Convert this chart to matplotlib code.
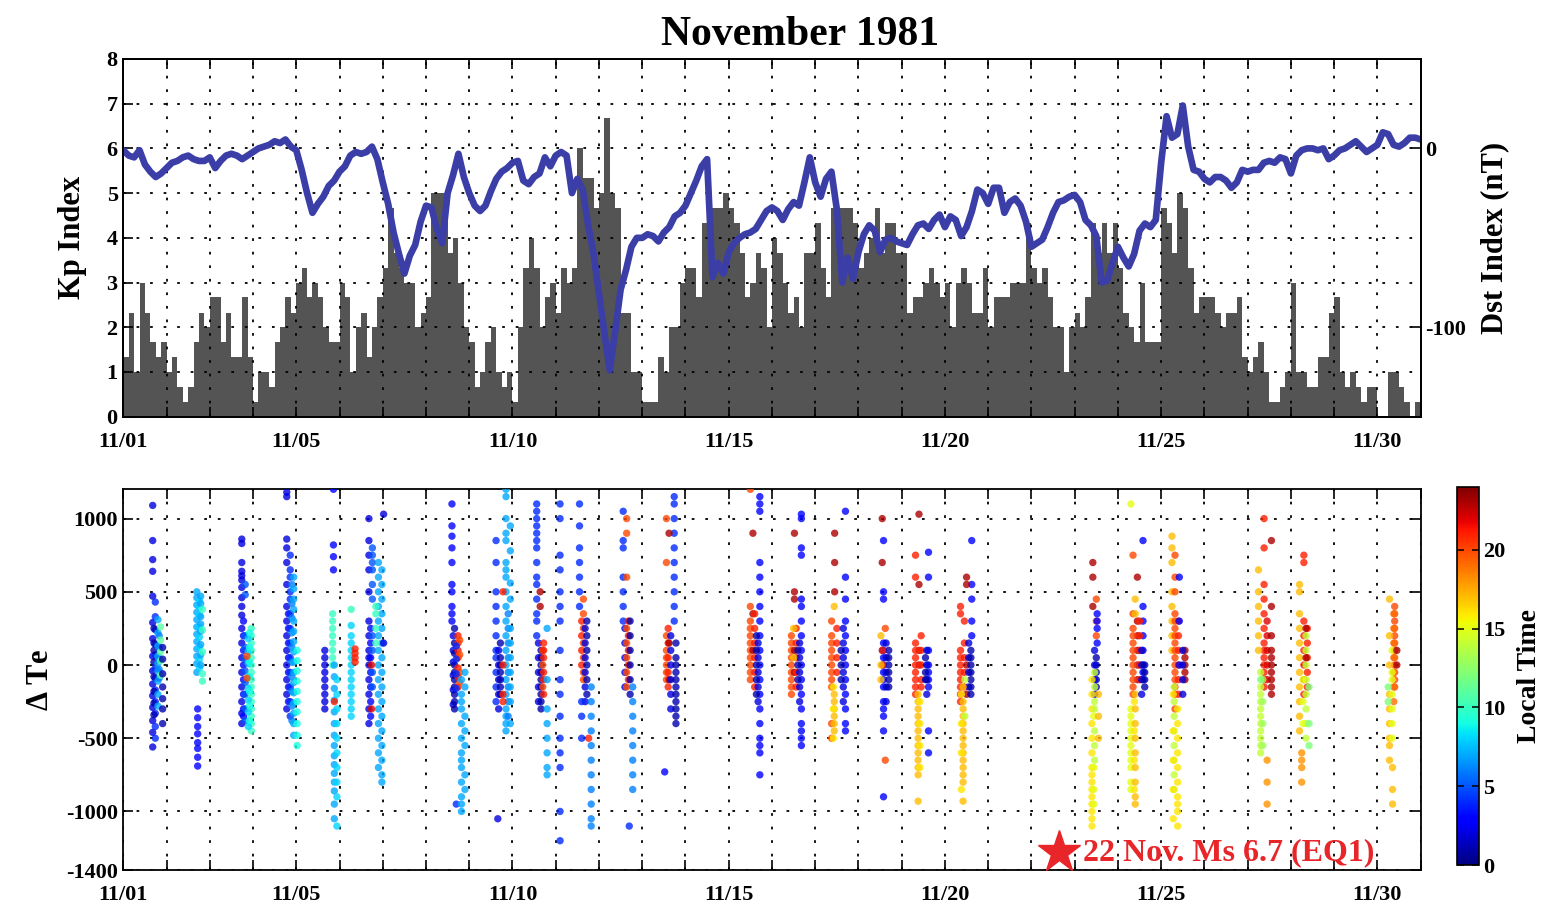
import matplotlib
matplotlib.use("Agg")
import matplotlib.pyplot as plt
import numpy as np

plt.rcParams.update({
    "font.family": "serif",
    "font.serif": ["Liberation Serif", "DejaVu Serif"],
    "font.weight": "bold",
    "axes.linewidth": 1.3,
    "mathtext.default": "regular",
})

# ---- data -------------------------------------------------------------
# 3-hourly Kp, 1-30 Nov 1981 (8 values per day)
KP = [
    1.33, 2.33, 1.0, 3.0, 2.33, 1.67, 1.33, 1.67,
    1.0, 1.33, 0.67, 0.33, 0.67, 1.67, 2.33, 2.0,
    2.67, 2.67, 1.67, 2.33, 1.33, 1.33, 2.67, 1.33,
    0.33, 1.0, 1.0, 0.67, 1.67, 2.0, 2.67, 2.33,
    3.0, 3.33, 2.67, 3.0, 2.67, 2.0, 1.67, 1.67,
    3.0, 2.67, 1.0, 2.0, 2.33, 1.33, 2.0, 2.67,
    3.33, 4.67, 3.67, 3.33, 3.0, 3.0, 2.0, 2.33,
    2.67, 5.0, 5.0, 5.0, 3.67, 4.0, 3.0, 2.0,
    1.67, 0.67, 1.0, 1.67, 2.0, 1.0, 0.67, 1.0,
    0.33, 2.0, 3.33, 4.0, 3.33, 2.0, 2.67, 3.0,
    2.33, 3.33, 3.0, 3.33, 6.0, 5.33, 5.33, 4.67,
    5.0, 6.67, 5.0, 4.67, 2.33, 2.33, 1.0, 1.0,
    0.33, 0.33, 0.33, 1.33, 1.0, 2.0, 2.0, 3.0,
    3.33, 3.33, 2.67, 4.33, 4.33, 4.67, 4.67, 5.0,
    4.67, 4.33, 3.67, 2.67, 3.0, 3.67, 3.33, 2.0,
    4.0, 3.67, 3.0, 2.33, 2.67, 2.0, 3.67, 3.67,
    4.33, 3.33, 2.67, 4.67, 4.67, 4.67, 4.67, 4.33,
    3.33, 3.67, 4.0, 4.67, 3.67, 4.33, 4.33, 3.67,
    3.67, 2.33, 2.67, 2.67, 3.0, 3.33, 3.0, 2.67,
    3.0, 2.0, 3.0, 3.33, 3.0, 2.33, 2.33, 3.33,
    2.0, 2.67, 2.67, 2.67, 3.0, 3.0, 3.0, 4.33,
    3.33, 3.0, 3.33, 2.67, 2.0, 2.0, 1.0, 2.0,
    2.33, 2.0, 2.67, 4.33, 3.67, 4.33, 3.67, 4.33,
    3.33, 2.33, 2.0, 1.67, 3.0, 1.67, 1.67, 1.67,
    4.67, 4.33, 3.67, 5.0, 4.67, 3.33, 2.33, 2.67,
    2.67, 2.67, 2.33, 2.0, 2.33, 2.33, 2.67, 1.33,
    1.0, 1.33, 1.67, 1.0, 0.33, 0.33, 0.67, 1.0,
    3.0, 1.0, 1.0, 0.67, 0.67, 1.33, 1.33, 2.33,
    2.67, 1.0, 0.67, 1.0, 0.67, 0.33, 0.67, 0.67,
    0.0, 0.0, 1.0, 1.0, 0.67, 0.33, 0.0, 0.33,
]

# Dst (nT) read every 3 hours, 1 Nov 00 UT to 1 Dec 00 UT
DST = [
    -1, -4, -5, -1, -9, -13, -16, -14,
    -11, -8, -7, -5, -4, -6, -7, -7,
    -5, -11, -7, -4, -3, -4, -6, -4,
    -2, 0, 1, 2, 4, 3, 5, 1,
    -1, -12, -25, -36, -31, -27, -21, -18,
    -13, -10, -4, -2, -3, -2, 1, -6,
    -19, -31, -47, -59, -70, -60, -54, -41,
    -32, -33, -45, -53, -25, -15, -3, -16,
    -25, -32, -35, -32, -24, -17, -13, -11,
    -8, -7, -18, -20, -16, -14, -5, -10,
    -4, -2, -4, -25, -17, -23, -43, -59,
    -81, -103, -124, -102, -79, -68, -55, -50,
    -50, -48, -49, -52, -47, -44, -38, -36,
    -32, -25, -18, -10, -6, -72, -64, -70,
    -58, -53, -50, -48, -47, -45, -40, -35,
    -33, -35, -40, -34, -30, -32, -19, -5,
    -19, -27, -17, -13, -34, -75, -61, -73,
    -58, -48, -43, -46, -58, -51, -50, -52,
    -53, -54, -48, -43, -42, -45, -40, -37,
    -44, -38, -40, -49, -44, -35, -23, -25,
    -31, -22, -22, -36, -30, -28, -32, -41,
    -55, -53, -51, -44, -36, -30, -29, -27,
    -26, -30, -40, -43, -49, -75, -74, -64,
    -55, -61, -66, -59, -46, -42, -44, -40,
    -8, 18, 6, 8, 24, 1, -12, -13,
    -17, -19, -16, -16, -18, -22, -19, -12,
    -13, -12, -12, -8, -7, -8, -5, -6,
    -14, -4, -1, 0, 0, -1, 0, -6,
    -4, -1, 0, 2, 4, 1, -2, 0,
    2, 9, 8, 2, 1, 3, 6, 6,
    5,
]

# Delta Te samples: (day since 1 Nov 00 UT, local time hour, [dTe values])
SCATTER = [
    # 11/01
    (0.68, 2, [1090, 850, 720, 640, 470, 290, 180, 60, -40, -130, -210, -290, -380, -460, -560]),
    (0.74, 4, [430, 330, 240, 140, 70, -20, -90, -170, -250, -330, -420, -500]),
    (0.71, 1, [250, 150, 100, 20, -80, -180, -260, -340]),
    (0.80, 7, [310, 220, 130, 60, 10, -40, -110, -200, -280]),
    (0.83, 6, [200, 120, 40, -30, -90]),
    (0.86, 11, [260, 170, 90, 30, -70]),
    (0.91, 1, [120, 40, -60, -150, -230, -300, -400]),
    # 11/02
    (1.70, 7, [500, 460, 410, 360, 310, 260, 210, 160, 110, 60, 10, -50]),
    (1.76, 8, [440, 390, 340, 260, 190, 120, 40, -20]),
    (1.79, 7, [470, 420, 330, 280, 230, 140, 70, 0]),
    (1.83, 10, [380, 240, 90, -60, -110]),
    (1.72, 3, [-300, -360, -420, -470, -530, -570, -630, -690]),
    # 11/03
    (2.74, 2, [860, 830, 700, 640, 610, 580, 530, 460, 400, 340, 250, 150, 50, -50, -150, -250, -330, -400]),
    (2.78, 3, [300, 200, 100, 0, -100, -200, -300, -350]),
    (2.82, 5, [550, 480, 200, 120, 40, -40, -120, -200, -300, -380]),
    (2.96, 10, [250, 200, 150, 100, 50, 0, -50, -100, -150, -200, -250, -300, -350, -400, -450]),
    (2.89, 8, [180, 90, 10, -80, -160, -240, -320, -420]),
    (2.92, 9, [220, 120, 20, -80, -180, -280, -380]),
    (2.86, 20, [60, -90]),
    # 11/04
    (3.78, 2, [1180, 1150, 860, 800, 700, 550, 400, 300, 200, 100, 0, -100, -200, -300]),
    (3.82, 3, [350, 250, 150, 50, -50, -150, -250]),
    (3.86, 4, [750, 650, 600, 500, 450, 350, 250, 150, 50, -50, -150, -250, -350]),
    (3.90, 6, [550, 420, 320, 220, 120, 20, -80, -180, -280, -380]),
    (3.94, 7, [600, 520, 450, 380, 300, 230, 160, 90, 20, -50, -120, -190, -260, -330, -400, -480]),
    (4.02, 9, [100, 30, -40, -110, -180, -250, -320, -400, -480, -550]),
    # 11/05
    (4.66, 2, [100, 50, 0, -50, -100, -150, -200, -250, -300]),
    (4.84, 10, [350, 300, 250, 200, 150, 100, 50, 0]),
    (4.88, 7, [0, -80, -160, -240, -320, -400, -480, -550, -620, -680, -740, -800, -860, -950, -1050]),
    (4.94, 8, [-100, -200, -300, -400, -500, -600, -700, -800, -900, -1100]),
    (4.86, 3, [1200, 820, 740, 650]),
    (4.88, 21, [-250]),
    (5.27, 8, [270, 200, 150, 100, 50, 0, -50, -100, -150, -200, -250, -300, -350]),
    (5.27, 10, [380]),
    (5.36, 21, [110, 80, 50, 20]),
    # 11/06
    (5.68, 2, [1000, 850, 750, 650, 500, 300, 200, 100, 50, 0, -100, -200, -300, -400]),
    (5.72, 3, [250, 150, 50, -50, -150, -250, -350]),
    (5.76, 5, [800, 750, 700, 650, 550, 450, 200, 100, -50, -150]),
    (5.90, 7, [700, 600, 500, 400, 300, 200, 100, 0, -100, -200, -300, -400, -500, -600, -700]),
    (5.98, 7, [650, 550, 450, 350, 250, 150, 50, -50, -150, -250, -350, -450, -550, -650, -750, -800]),
    (5.84, 10, [400, 350, 250, 150]),
    (5.74, 22, [0, -300]),
    (6.02, 2, [1030, 150]),
    # 11/08
    (7.60, 3, [1100, 950, 880, 800, 700, 550, 500, 400, 350, 300]),
    (7.63, 2, [200, 100, 20, -70, -170, -270]),
    (7.66, 1, [250, 150, 80, 0, -50, -100, -150, -200, -250, -300]),
    (7.74, 21, [200, 150, 100, 50, -20, -80, -150]),
    (7.78, 20, [170, 70, -50, -120]),
    (7.70, 4, [130, 40, -60, -160, -950]),
    (7.82, 7, [-100, -200, -250, -300, -400, -500, -600, -650, -700, -800, -900, -950, -1000]),
    (7.90, 7, [-50, -150, -350, -450, -550, -750, -850]),
    # 11/09
    (8.85, 7, [1200, 1150, 1000, 900, 850, 700, 650, 600, 500, 400, 300, 200, 100, 0, -100, -200, -300, -350, -400, -450]),
    (8.90, 6, [350, 250, 150, 50, -50, -150, -250, -350]),
    (8.95, 7, [950, 780, 560, 450, 250, 150, 50, -50, -150, -250, -400]),
    (8.62, 4, [850, 700, 500, 400, 300, 200, 100, 50, -50, -150, -250]),
    (8.68, 2, [100, 0, -100, -200, -300]),
    (8.72, 1, [150, 50, 0, -50, -100, -150, -200]),
    (8.78, 21, [500, 0, -200, -250]),
    (8.66, 2, [-1050]),
    # 11/10
    (9.56, 4, [1100, 1050, 1000, 950, 900, 850, 800, 700, 600, 550, 450, 350, 300, 200]),
    (9.60, 2, [150, 50, -50, -150, -250]),
    (9.66, 1, [100, 50, 0, -50, -100, -150, -200, -250, -300]),
    (9.70, 20, [100, 0, -150]),
    (9.72, 21, [150, 100, 50, -50, -100, -200]),
    (9.64, 23, [500, 400]),
    (9.80, 7, [250, -100, -300, -400, -500, -600, -700, -750]),
    (10.10, 4, [1100, 1000, 750, 650, 500, 400, 300, 100, -100, -200, -350, -500, -600, -700, -1000, -1200]),
    # 11/11
    (10.55, 4, [1100, 950, 800, 700, 600, 500, 400]),
    (10.60, 21, [300, 200, 100, 0]),
    (10.64, 20, [450, 350, 250, 150, 50, -50, -100]),
    (10.68, 2, [250, 150, 50, -50, -150, -250]),
    (10.72, 1, [300, 200, 100, 0, -100, -200]),
    (10.82, 6, [-150, -250, -350, -450, -550, -650, -750, -850, -950, -1050, -1100]),
    (10.60, 4, [-250, -350, -500]),
    (10.76, 21, [-500]),
    # 11/12
    (11.56, 4, [1050, 850, 800, 600, 500, 400, 300]),
    (11.60, 2, [250, 150, 50, -50, -150]),
    (11.64, 20, [1000, 900, 600, 250, 150, 50, -50, -150]),
    (11.68, 21, [300, 200, 100, 0, -100]),
    (11.72, 1, [300, 200, 100, 0, -100, -200]),
    (11.78, 6, [-150, -250, -350, -450, -550, -650, -750, -850]),
    (11.70, 4, [-1100]),
    # 11/13
    (12.74, 4, [1150, 1100, 1000, 900, 800, 700, 600, 500, 400, 300]),
    (12.56, 20, [1000, 700, 200, 100, 50, 0, -50, -100]),
    (12.60, 21, [250, 150, 50, -50, -150]),
    (12.62, 23, [900, 150, -100]),
    (12.66, 2, [200, 100, 0, -100, -200, -300]),
    (12.78, 1, [150, 50, 0, -50, -100, -150, -200, -250, -300, -350, -400]),
    (12.52, 3, [-730]),
    # 11/15
    (14.50, 20, [1200, 400, 300, 250, 200, 150, 100, 50, 0, -50, -100]),
    (14.56, 23, [900, 350, 100]),
    (14.60, 21, [350, 250, 150, 50, -50, -150]),
    (14.72, 3, [1150, 1100, 1050, 700, 600, 500, 400, 300, 200, 100, 0, -100, -200, -300, -400, -500, -550, -600, -750]),
    (14.64, 1, [200, 100, 0, -100, -200]),
    (14.68, 2, [150, 50, -50, -150, -250]),
    # 11/16
    (15.45, 20, [200, 150, 100, 50, 0, -50, -100, -150, -200]),
    (15.52, 23, [900, 500, 450, 100, -50]),
    (15.56, 21, [250, 150, 50, -50, -150]),
    (15.68, 3, [1030, 1000, 800, 750, 450, 400, 300, 200, 100, 0, -100, -200, -300, -400, -450, -500, -550]),
    (15.60, 1, [100, 0, -100]),
    (15.64, 2, [150, 50, -50, -150, -250]),
    (15.50, 17, [250, 50]),
    # 11/17
    (16.45, 23, [900, 700, 500]),
    (16.38, 20, [300, 200, 150, 100, 50, 0, -50, -100, -150, -400, -500]),
    (16.50, 21, [250, 150, 50, -50]),
    (16.44, 17, [400, -200, -250, -300, -350, -400, -450]),
    (16.42, 16, [-150, -300, -500]),
    (16.70, 3, [1050, 600, 450, 300, 200, 100, 0, -100, -200, -300, -400, -450]),
    (16.65, 2, [250, 150, 50, -50, -150, -250]),
    (16.60, 1, [100, 0, -100]),
    # 11/18
    (17.55, 23, [1000, 700, 100]),
    (17.58, 3, [850, 500, 450, 150, 100, 50, 0, -50, -100, -150, -250, -300, -350, -450, -900]),
    (17.64, 2, [150, 50, -50, -150, -250]),
    (17.70, 1, [100, 50, 0, -50, -100, -150]),
    (17.62, 20, [250, -650]),
    (17.56, 21, [100, 0]),
    (17.52, 17, [200, 0, -100]),
    # 11/19
    (18.40, 23, [1030, 550, 100, 0]),
    (18.32, 21, [750, 600, 150, 100, 50, 0, -50, -100, -150, -200]),
    (18.45, 21, [200, 100, 0, -100, -150]),
    (18.62, 3, [770, 600, 100, 0, -50, -100, -150, -450, -600]),
    (18.58, 2, [100, 0, -100, -200]),
    (18.55, 1, [50, -50, -100]),
    (18.38, 17, [-200, -250, -300, -350, -400, -450, -500, -550, -600, -650, -700, -750, -930]),
    (18.42, 16, [-250, -400, -550, -700]),
    # 11/20
    (19.62, 3, [850, 550, 450, 300, 200]),
    (19.50, 23, [600, 550, 0, -200]),
    (19.36, 21, [400, 350, 100, 50, 0, -50, -100, -150, -200, -250]),
    (19.45, 21, [300, 150, 50, -50, -150]),
    (19.55, 2, [150, 50, -50, -150]),
    (19.60, 1, [100, 50, 0, -50, -100, -150, -200]),
    (19.42, 17, [-150, -250, -300, -350, -400, -450, -500, -550, -600, -650, -700, -750, -800, -930]),
    (19.38, 16, [-200, -400, -600, -850]),
    (19.46, 14, [-100, -350]),
    # 11/23
    (22.42, 23, [700, 600, 400]),
    (22.50, 20, [450, 300, 200]),
    (22.52, 3, [350, 300, 250, 150]),
    (22.50, 1, [50, 0, -50, -100, -150]),
    (22.46, 2, [100, 0, -100, -200]),
    (22.40, 16, [-100, -200, -300, -400, -500, -600, -700, -750, -800, -850, -900, -950, -1000, -1050, -1100]),
    (22.46, 14, [-50, -150, -250, -300, -450, -550, -650]),
    (22.44, 15, [-350, -700, -850, -950]),
    (22.55, 17, [-200, -350, -500]),
    # 11/24
    (23.30, 15, [1100, -300, -350, -400, -450, -500, -550, -600, -650, -700, -800, -850]),
    (23.58, 3, [850, 400, 300, 200, 100, 0, -50, -100]),
    (23.45, 23, [600, 300, 200, 100, 0, -100]),
    (23.35, 20, [750, 350, 250, 200, 150, 100, 50, 0, -50, -100, -150, -200]),
    (23.50, 21, [300, 200, 100, 0, -100]),
    (23.40, 17, [450, 350, -200, -300, -400, -500, -600, -700, -800, -900, -950]),
    (23.38, 16, [-250, -450, -650, -850]),
    (23.55, 2, [100, 0, -100, -200]),
    (23.62, 1, [0, -50, -100, -150]),
    # 11/25
    (24.25, 17, [880, 800, 700, 500, 400, 300, 200, 100]),
    (24.32, 20, [750, 600, 500, 350, 300, 250, 200, 150, 100, 50, 0, -50, -100, -150, -200, -300]),
    (24.40, 21, [300, 200, 100, 0, -100, -200]),
    (24.55, 23, [100, 50, 0, -50, -100]),
    (24.42, 3, [600, 300, 0]),
    (24.50, 2, [100, 0, -100, -200]),
    (24.30, 14, [-150, -250, -350, -450, -550, -650, -750, -850]),
    (24.38, 16, [-300, -400, -500, -600, -700, -800, -900, -950, -1000, -1100]),
    (24.28, 16, [-200, -450, -650, -850, -1050]),
    # 11/27
    (26.38, 21, [1000, 800, 550, 450, 350, 250, 150, 100, 50, 0, -50, -100, -150]),
    (26.45, 22, [300, 200, 100, 0, -100]),
    (26.55, 23, [850, 400, 200, 100, 50, 0, -50, -100, -150, -200]),
    (26.25, 17, [650, 500, 400, 300, 200, 100]),
    (26.30, 14, [-50, -150, -200, -250, -300, -350, -400, -450, -500, -550, -600]),
    (26.35, 13, [-100, -250, -400, -550]),
    (26.30, 12, [-100]),
    (26.45, 18, [-650, -800, -950]),
    # 11/28
    (27.30, 21, [750, 700, 300, 200, 100, 0, -100, -200]),
    (27.38, 21, [250, 150, 50, -50, -150]),
    (27.20, 17, [550, 500, 350, 250, 150, 50, -50, -150, -250, -350, -450]),
    (27.35, 14, [200, 100, 0, -100, -200, -300, -400, -500]),
    (27.28, 15, [-100, -250, -400]),
    (27.42, 12, [-150, -400, -550]),
    (27.25, 18, [-600, -650, -700, -800]),
    (27.35, 23, [250, 50]),
    # 11/30
    (29.40, 20, [400, 350, 300, 250, 200, 150, 100, 50, 0, -50, -100, -150]),
    (29.38, 19, [350, 250, 150, 50, -50, -150, -250]),
    (29.28, 17, [450, 200, 0, -200, -300, -400, -500, -550, -650]),
    (29.34, 15, [100, -50, -100, -200, -300, -400, -500]),
    (29.25, 12, [-150, -250]),
    (29.45, 23, [100, 0]),
    (29.35, 17, [-700, -850, -950]),
]

DAY_TICKS = [0, 4, 9, 14, 19, 24, 29]
DAY_LABELS = ["11/01", "11/05", "11/10", "11/15", "11/20", "11/25", "11/30"]
EQ_DAY, EQ_DTE = 21.64, -1280
EQ_TEXT = "22 Nov. Ms 6.7 (EQ1)"

BAR_COLOR = "#545454"
DST_COLOR = "#3B3EA6"
EQ_COLOR = "#E8262A"
GRID_LS = (0, (1.5, 6))

TICK_FS = 16
LABEL_FS = 22


def day_axis(ax):
    ax.set_xlim(0, 30)
    ax.set_xticks(np.arange(0, 31))
    labels = [""] * 31
    for d, lab in zip(DAY_TICKS, DAY_LABELS):
        labels[d] = lab
    ax.set_xticklabels(labels, fontsize=TICK_FS, fontweight="bold")
    ax.tick_params(axis="both", direction="in", length=7, width=1.2,
                   top=True, right=True, labelsize=TICK_FS, pad=4)
    ax.tick_params(axis="x", pad=11)
    ax.grid(True, color="black", linestyle=GRID_LS, linewidth=1.3)


fig = plt.figure(figsize=(15.45, 9.09), dpi=100)

# ---- top panel: Kp bars + Dst line ------------------------------------
ax1 = fig.add_axes([0.0798, 0.5416, 0.8397, 0.3935])
t_kp = np.arange(len(KP)) / 8.0
ax1.bar(t_kp, KP, width=1 / 8.0, align="edge", color=BAR_COLOR, linewidth=0, zorder=1)
ax1.set_ylim(0, 8)
ax1.set_yticks(np.arange(0, 9))
day_axis(ax1)
ax1.set_axisbelow(False)
ax1.set_ylabel("Kp Index", fontsize=LABEL_FS, fontweight="bold", labelpad=14)

ax2 = ax1.twinx()
t_dst = np.arange(len(DST)) / 8.0
ax2.plot(t_dst, DST, color=DST_COLOR, linewidth=4.8, solid_joinstyle="round",
         solid_capstyle="round")
ax2.set_ylim(-150, 50)
ax2.set_yticks([0, -100])
ax2.set_yticklabels(["0", "-100"])
ax2.tick_params(axis="y", direction="in", length=7, width=1.2, labelsize=TICK_FS)
ax2.set_ylabel("Dst Index (nT)", fontsize=LABEL_FS, fontweight="bold", labelpad=10)
for lab in ax2.get_yticklabels():
    lab.set_fontweight("bold")
ax1.set_title("November 1981", fontsize=30, fontweight="bold", x=0.522, pad=10)

# ---- bottom panel: Delta Te scatter ------------------------------------
ax3 = fig.add_axes([0.0798, 0.0429, 0.8397, 0.4188])
xs, ys, cs = [], [], []
for day, lt, vals in SCATTER:
    for v in vals:
        xs.append(day)
        ys.append(v)
        cs.append(lt)
sc = ax3.scatter(xs, ys, c=cs, cmap="jet", vmin=0, vmax=24, s=28,
                 linewidths=0, alpha=0.8, zorder=3)
ax3.set_ylim(-1400, 1200)
ax3.set_yticks([1000, 500, 0, -500, -1000, -1400])
ax3.set_yticklabels(["1000", "500", "0", "-500", "-1000", "-1400"])
day_axis(ax3)
ax3.set_ylabel("$\\Delta$ Te", fontsize=LABEL_FS, fontweight="bold", labelpad=8)
for lab in ax1.get_yticklabels() + ax3.get_yticklabels():
    lab.set_fontweight("bold")

ax3.plot(EQ_DAY, EQ_DTE, marker="*", markersize=32, color=EQ_COLOR,
         linestyle="none", zorder=5, clip_on=False)
ax3.text(EQ_DAY + 0.55, EQ_DTE, EQ_TEXT, color=EQ_COLOR, fontsize=23,
         fontweight="bold", va="center", ha="left", zorder=5)

cax = fig.add_axes([0.943, 0.0484, 0.0140, 0.416])
cb = fig.colorbar(sc, cax=cax)
cb.solids.set_alpha(1)
cb.set_ticks([0, 5, 10, 15, 20])
cb.ax.tick_params(direction="in", length=5, width=1.1, labelsize=TICK_FS,
                  left=True, right=True)
for lab in cb.ax.get_yticklabels():
    lab.set_fontweight("bold")
cb.set_label("Local Time", fontsize=20, fontweight="bold", labelpad=8)
cb.outline.set_linewidth(1.2)

fig.savefig("out.png", dpi=100, facecolor="white")
